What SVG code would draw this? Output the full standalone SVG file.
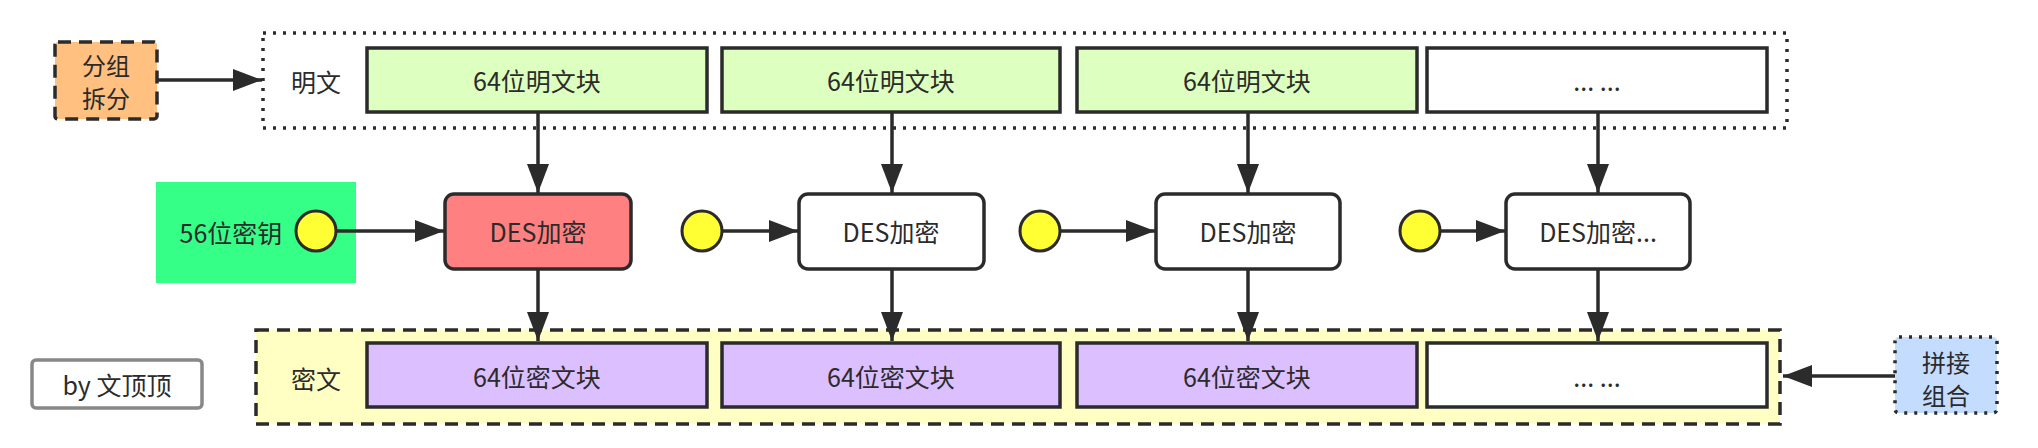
<svg xmlns="http://www.w3.org/2000/svg" width="2038" height="448" viewBox="0 0 2038 448">
<defs>
<marker id="ah" markerUnits="userSpaceOnUse" markerWidth="30" markerHeight="22" refX="29" refY="11" orient="auto">
<path d="M0,0 L29,11 L0,22 z" fill="#2b2b2b"/>
</marker>
<style>
text{font-family:"Noto Sans CJK SC","Noto Sans",sans-serif;font-size:25px;fill:#2b2b2b;text-anchor:middle;dominant-baseline:central}
.two{font-size:24px}
.blk{stroke:#2b2b2b;stroke-width:3.5}
.plain{fill:#ddffc0}
.ciph{fill:#dcbfff}
.white{fill:#ffffff}
.des{stroke:#2b2b2b;stroke-width:3.5;fill:#ffffff}
.key{fill:#ffff33;stroke:#2b2b2b;stroke-width:3}
.conn{stroke:#2b2b2b;stroke-width:3.5;fill:none;marker-end:url(#ah)}
</style>
</defs>

<g id="plaintext-group">
<rect x="263" y="33" width="1524" height="95" fill="#ffffff" stroke="#2b2b2b" stroke-width="3.5" stroke-dasharray="3 7"/>
<text x="316" y="81">明文</text>
</g>
<g id="ciphertext-group">
<rect x="256" y="330" width="1524" height="94" fill="#ffffc4" stroke="#2b2b2b" stroke-width="3.5" stroke-dasharray="13 8"/>
<text x="316" y="378">密文</text>
</g>

<g id="split">
<rect x="55" y="42" width="102" height="77" rx="3" fill="#ffc080" stroke="#2b2b2b" stroke-width="3.5" stroke-dasharray="13 8"/>
<text class="two" x="106" y="64">分组</text>
<text class="two" x="106" y="97">拆分</text>
</g>

<g id="p1"><rect class="blk plain" x="367" y="48" width="340" height="64"/><text x="537" y="80">64位明文块</text></g>
<g id="p2"><rect class="blk plain" x="722" y="48" width="338" height="64"/><text x="891" y="80">64位明文块</text></g>
<g id="p3"><rect class="blk plain" x="1077" y="48" width="340" height="64"/><text x="1247" y="80">64位明文块</text></g>
<g id="p4"><rect class="blk white" x="1427" y="48" width="340" height="64"/><text x="1597" y="80">... ...</text></g>

<g id="keybox">
<rect x="156" y="182" width="200" height="101" fill="#36ff88"/>
<text x="231" y="232">56位密钥</text>
</g>
<g id="k1"><circle class="key" cx="316" cy="231" r="20"/></g>
<g id="k2"><circle class="key" cx="702" cy="231" r="20"/></g>
<g id="k3"><circle class="key" cx="1040" cy="231" r="20"/></g>
<g id="k4"><circle class="key" cx="1420" cy="231" r="20"/></g>

<g id="d1"><rect class="des" x="445" y="194" width="186" height="75" rx="9" style="fill:#ff8080"/><text x="538" y="231">DES加密</text></g>
<g id="d2"><rect class="des" x="799" y="194" width="185" height="75" rx="9"/><text x="891" y="231">DES加密</text></g>
<g id="d3"><rect class="des" x="1156" y="194" width="184" height="75" rx="9"/><text x="1248" y="231">DES加密</text></g>
<g id="d4"><rect class="des" x="1506" y="194" width="184" height="75" rx="9"/><text x="1598" y="231">DES加密...</text></g>

<g id="c1"><rect class="blk ciph" x="367" y="343" width="340" height="64"/><text x="537" y="376">64位密文块</text></g>
<g id="c2"><rect class="blk ciph" x="722" y="343" width="338" height="64"/><text x="891" y="376">64位密文块</text></g>
<g id="c3"><rect class="blk ciph" x="1077" y="343" width="340" height="64"/><text x="1247" y="376">64位密文块</text></g>
<g id="c4"><rect class="blk white" x="1427" y="343" width="340" height="64"/><text x="1597" y="376">... ...</text></g>

<g id="merge">
<rect x="1895" y="337" width="102" height="76" rx="4" fill="#c4ddff" stroke="#2b2b2b" stroke-width="3.5" stroke-dasharray="3 7"/>
<text class="two" x="1946" y="361">拼接</text>
<text class="two" x="1946" y="394">组合</text>
</g>

<g id="credit">
<rect x="32" y="360" width="170" height="48" rx="4" fill="#ffffff" stroke="#888888" stroke-width="3.5"/>
<text x="117" y="384">by 文顶顶</text>
</g>

<g id="connectors">
<line class="conn" x1="157" y1="80" x2="262" y2="80"/>
<line class="conn" x1="538" y1="112" x2="538" y2="193"/>
<line class="conn" x1="892" y1="112" x2="892" y2="193"/>
<line class="conn" x1="1248" y1="112" x2="1248" y2="193"/>
<line class="conn" x1="1598" y1="112" x2="1598" y2="193"/>
<line class="conn" x1="336" y1="231" x2="444" y2="231"/>
<line class="conn" x1="722" y1="231" x2="798" y2="231"/>
<line class="conn" x1="1060" y1="231" x2="1155" y2="231"/>
<line class="conn" x1="1440" y1="231" x2="1505" y2="231"/>
<line class="conn" x1="538" y1="269" x2="538" y2="341"/>
<line class="conn" x1="892" y1="269" x2="892" y2="341"/>
<line class="conn" x1="1248" y1="269" x2="1248" y2="341"/>
<line class="conn" x1="1598" y1="269" x2="1598" y2="341"/>
<line class="conn" x1="1895" y1="376" x2="1783" y2="376"/>
</g>
</svg>
